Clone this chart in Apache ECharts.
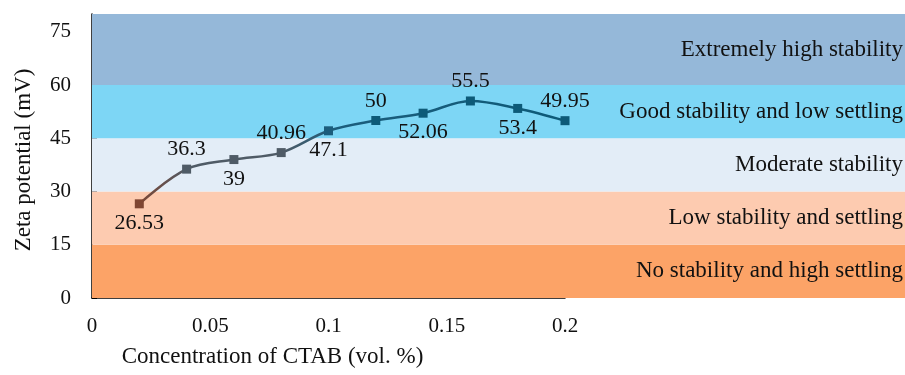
<!DOCTYPE html>
<html>
<head>
<meta charset="utf-8">
<script src="https://cdn.jsdelivr.net/npm/echarts@6/dist/echarts.min.js"></script>
<style>
  html, body { margin: 0; padding: 0; background: #fff; }
  #chart { width: 905px; height: 375px; }
</style>
</head>
<body>
<div id="chart"></div>
<script>
// CTAB concentration (vol. %) and measured zeta potential (mV)
const concentration = [0.02, 0.04, 0.06, 0.08, 0.10, 0.12, 0.14, 0.16, 0.18, 0.20];
const zetaPotential = [26.53, 36.3, 39, 40.96, 47.1, 50, 52.06, 55.5, 53.4, 49.95];
const labelSide = ['bottom', 'top', 'bottom', 'top', 'bottom', 'top', 'bottom', 'top', 'bottom', 'top'];

// Stability bands (mV ranges)
const bandFrom = [0, 15, 30, 45, 60];
const bandTo = [15, 30, 45, 60, 80];
const bandNames = [
  'No stability and high settling',
  'Low stability and settling',
  'Moderate stability',
  'Good stability and low settling',
  'Extremely high stability'
];

// Axis ticks
const yTicks = [0, 15, 30, 45, 60, 75];
const xTicks = [0, 0.05, 0.1, 0.15, 0.2];

// Styling
const bandPalette = ['#fca367', '#fdcbb0', '#e3edf7', '#7dd6f5', '#95b8d9'];
const pointPalette = ['#7f4632', '#4f5b66', '#4f5b66', '#4f5b66', '#1c5d7c',
  '#0d5a78', '#0d5a78', '#0d5a78', '#0d5a78', '#0d5a78'];
const FONT = '"Liberation Serif", "Times New Roman", serif';

const chart = echarts.init(document.getElementById('chart'), null, { renderer: 'canvas' });

const lineData = concentration.map((c, i) => ({
  value: [c, zetaPotential[i]],
  itemStyle: { color: pointPalette[i] },
  label: { position: labelSide[i] }
}));

const bandAreas = bandFrom.map((lo, i) => [
  {
    name: bandNames[i],
    yAxis: lo,
    itemStyle: { color: bandPalette[i], opacity: 1 }
  },
  { yAxis: bandTo[i] }
]);

chart.setOption({
  animation: false,
  grid: [
    { left: 92, right: 0, top: 14, bottom: 77 },
    { left: 92, width: 473, top: 14, bottom: 77 }
  ],
  xAxis: [
    { gridIndex: 0, type: 'value', min: 0, max: 1, show: false },
    {
      gridIndex: 1, type: 'value', min: 0, max: 0.2, interval: 0.05,
      axisLine: { show: true, lineStyle: { color: '#000', width: 1.5 } },
      axisTick: { show: true, inside: true, length: 5, lineStyle: { color: '#000', width: 1 }, customValues: xTicks },
      axisLabel: { customValues: xTicks, fontFamily: FONT, fontSize: 21, color: '#111', margin: 18 },
      splitLine: { show: false },
      name: 'Concentration of CTAB (vol. %)',
      nameLocation: 'middle',
      nameGap: 47,
      nameTextStyle: { fontFamily: FONT, fontSize: 23, color: '#111', padding: [0, 112, 0, 0] }
    }
  ],
  yAxis: [
    { gridIndex: 0, type: 'value', min: 0, max: 80, show: false },
    {
      gridIndex: 1, type: 'value', min: 0, max: 80, interval: 15,
      axisLine: { show: true, lineStyle: { color: '#000', width: 1.5 } },
      axisTick: { show: true, inside: true, length: 5, lineStyle: { color: '#000', width: 1 }, customValues: yTicks },
      axisLabel: { customValues: yTicks, fontFamily: FONT, fontSize: 21, color: '#111', margin: 21 },
      splitLine: { show: false },
      name: 'Zeta potential (mV)',
      nameLocation: 'middle',
      nameGap: 57,
      nameTextStyle: { fontFamily: FONT, fontSize: 23, color: '#111', padding: [0, 8, 0, 0] }
    }
  ],
  series: [
    {
      type: 'line',
      xAxisIndex: 0, yAxisIndex: 0,
      data: [],
      silent: true,
      z: 0,
      markArea: {
        silent: true,
        label: {
          show: true,
          position: 'insideRight',
          distance: 2,
          fontFamily: FONT,
          fontSize: 23,
          color: '#111'
        },
        data: bandAreas
      }
    },
    {
      type: 'line',
      xAxisIndex: 1, yAxisIndex: 1,
      data: lineData,
      smooth: 0.35,
      symbol: 'rect',
      symbolSize: 9,
      z: 5,
      lineStyle: {
        width: 2.5,
        color: new echarts.graphic.LinearGradient(0, 0, 1, 0, [
          { offset: 0, color: '#7f4632' },
          { offset: 0.12, color: '#4f5b66' },
          { offset: 0.34, color: '#4f5b66' },
          { offset: 0.46, color: '#1c5d7c' },
          { offset: 1, color: '#0d5a78' }
        ])
      },
      label: {
        show: true,
        distance: 4,
        fontFamily: FONT,
        fontSize: 22,
        color: '#111',
        formatter: p => String(p.value[1])
      }
    }
  ]
});
</script>
</body>
</html>
